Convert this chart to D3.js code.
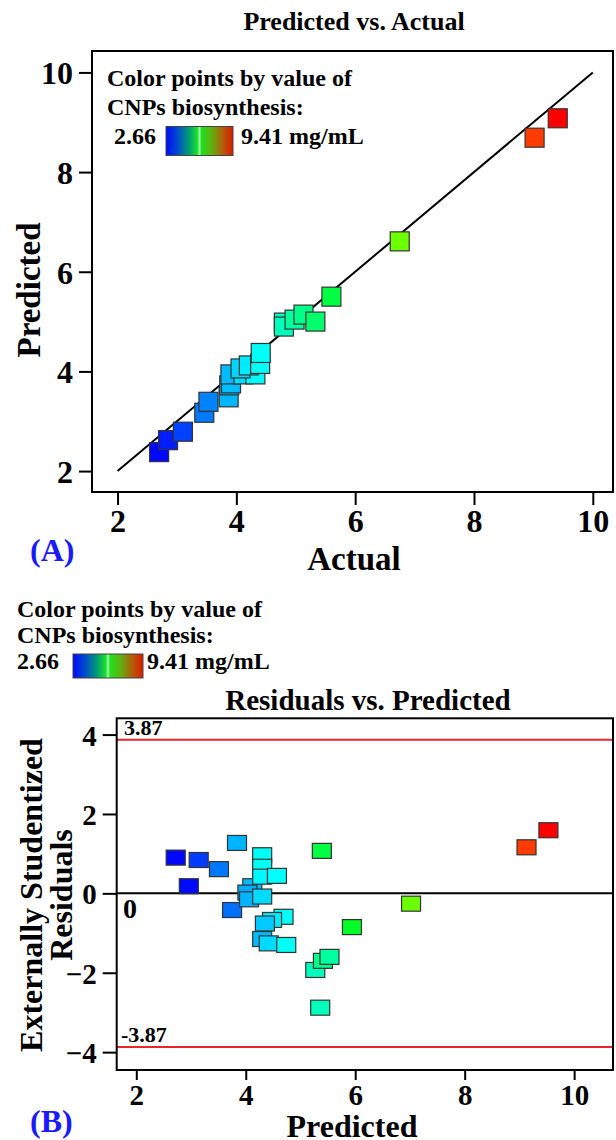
<!DOCTYPE html>
<html><head><meta charset="utf-8">
<script src="https://cdn.jsdelivr.net/npm/d3@7"></script>
<style>
html,body{margin:0;padding:0;background:#fff;}
text{font-family:"Liberation Serif","Times New Roman",serif;font-weight:bold;}
</style></head>
<body>
<svg id="c" width="616" height="1140"></svg>
<script>
// ---------- DATA ----------
const xTicks = [2, 4, 6, 8, 10];
const yTicksA = [2, 4, 6, 8, 10];
const yTicksB = [-4, -2, 0, 2, 4];
const colorMin = 2.66, colorMax = 9.41;
// Panel A: actual vs predicted
const actualA = [2.70,2.85,3.10,3.46,3.53,3.87,3.88,3.91,3.90,4.12,4.32,4.07,4.21,4.40,4.41,4.80,4.80,4.98,5.13,5.33,5.60,6.75,9.02,9.41];
const predictedA = [2.38,2.62,2.79,3.17,3.39,3.48,3.72,3.76,3.94,3.94,3.94,4.06,4.12,4.15,4.37,4.98,4.90,5.04,5.14,5.00,5.50,6.61,8.69,9.08];
// Panel B: predicted vs externally studentized residuals, colour value
const predictedB = [2.72,2.96,3.14,3.51,3.84,3.75,4.12,4.03,4.06,4.30,4.30,4.30,4.30,4.57,4.69,4.48,4.35,4.30,4.42,4.74,5.39,5.94,5.27,5.41,5.53,5.36,7.02,9.13,9.53];
const residualB  = [0.90,0.18,0.84,0.61,1.27,-0.42,0.18,0.02,-0.15,-0.08,0.96,0.67,0.42,0.44,-0.59,-0.67,-0.76,-1.15,-1.26,-1.30,1.07,-0.85,-1.93,-1.70,-1.60,-2.88,-0.26,1.16,1.59];
const colorB     = [2.70,2.72,3.05,3.45,3.85,3.40,3.90,3.80,3.85,4.10,4.40,4.40,4.30,4.35,4.40,4.20,4.00,3.90,4.10,4.41,5.60,5.80,4.80,5.13,4.98,4.80,6.75,9.02,9.41];
const limitB = 3.87;

// ---------- HELPERS ----------
const svg = d3.select("#c");
const hue = d3.scaleLinear().domain([colorMin, colorMax]).range([240, 0]).clamp(true);
const col = v => d3.hsl(hue(v), 1, 0.5).formatHex();

const defs = svg.append("defs");
const grad = defs.append("linearGradient").attr("id","lg");
[[0,"#0008ff"],[0.18,"#0050c8"],[0.35,"#00a070"],[0.47,"#20e030"],[0.5,"#a0ffa0"],[0.53,"#20e020"],[0.68,"#60b010"],[0.84,"#b06008"],[1,"#e01800"]]
  .forEach(s => grad.append("stop").attr("offset", s[0]).attr("stop-color", s[1]));

function legend(g, x0, y1, pitch, valX, barX, barW, barH, labX) {
  g.append("text").attr("x", x0).attr("y", y1).attr("font-size", 24).text("Color points by value of");
  g.append("text").attr("x", x0).attr("y", y1 + pitch).attr("font-size", 24).text("CNPs biosynthesis:");
  const y3 = y1 + 2 * pitch;
  g.append("text").attr("x", valX).attr("y", y3).attr("font-size", 24).text(colorMin.toFixed(2));
  g.append("rect").attr("x", barX).attr("y", y3 - barH / 2 - 3).attr("width", barW).attr("height", barH)
    .attr("fill", "url(#lg)").attr("stroke", "#444").attr("stroke-width", 1);
  g.append("text").attr("x", labX).attr("y", y3).attr("font-size", 24).text(colorMax.toFixed(2) + " mg/mL");
}

function styleAxis(g, size) {
  g.select(".domain").remove();
  g.selectAll(".tick line").attr("stroke", "#000").attr("stroke-width", 2);
  g.selectAll(".tick text").attr("font-size", size).attr("fill", "#000")
    .style("font-family", "'Liberation Serif',serif").style("font-weight", "bold");
}

// ---------- PANEL A ----------
const A = {l: 92, t: 51, r: 613, b: 492};
const xA = d3.scaleLinear().domain([1.57, 10.34]).range([A.l, A.r]);
const yA = d3.scaleLinear().domain([1.58, 10.43]).range([A.b, A.t]);
const gA = svg.append("g");

gA.append("text").attr("x", 354).attr("y", 30).attr("text-anchor", "middle").attr("font-size", 26).text("Predicted vs. Actual");

const gxA = gA.append("g").attr("transform", `translate(0,${A.b})`)
  .call(d3.axisBottom(xA).tickValues(xTicks).tickSize(13).tickPadding(4).tickFormat(d3.format("d")));
const gyA = gA.append("g").attr("transform", `translate(${A.l},0)`)
  .call(d3.axisLeft(yA).tickValues(yTicksA).tickSize(13).tickPadding(6).tickFormat(d3.format("d")));
styleAxis(gxA, 32); styleAxis(gyA, 32);
gyA.selectAll(".tick text").attr("dy", "0.36em");

gA.append("line").attr("x1", xA(2)).attr("y1", yA(2)).attr("x2", xA(10)).attr("y2", yA(10))
  .attr("stroke", "#000").attr("stroke-width", 2);

const SA = 19;
gA.selectAll("rect.pt").data(actualA.map((a, i) => ({a, p: predictedA[i]}))).join("rect")
  .attr("class", "pt")
  .attr("x", d => xA(d.a) - SA / 2).attr("y", d => yA(d.p) - SA / 2)
  .attr("width", SA).attr("height", SA)
  .attr("fill", d => col(d.a)).attr("stroke", "#333").attr("stroke-width", 1.2);

gA.append("rect").attr("x", A.l).attr("y", A.t).attr("width", A.r - A.l).attr("height", A.b - A.t)
  .attr("fill", "none").attr("stroke", "#000").attr("stroke-width", 2);

legend(gA, 107, 86, 29, 114, 166, 67, 29, 241);

gA.append("text").attr("transform", "translate(40,290) rotate(-90)").attr("text-anchor", "middle").attr("font-size", 33).text("Predicted");
gA.append("text").attr("x", 354).attr("y", 570).attr("text-anchor", "middle").attr("font-size", 33).text("Actual");
gA.append("text").attr("x", 30).attr("y", 561).attr("font-size", 32).attr("fill", "#1a1aff").text("(A)");

// ---------- PANEL B ----------
const B = {l: 116.7, t: 718.3, r: 613, b: 1070};
const xB = d3.scaleLinear().domain([1.642, 10.71]).range([B.l, B.r]);
const yB = d3.scaleLinear().domain([-4.45, 4.41]).range([B.b, B.t]);
const gB = svg.append("g");

legend(gB, 17, 617, 26, 17, 73, 70, 24, 147);

gB.append("text").attr("x", 368).attr("y", 710).attr("text-anchor", "middle").attr("font-size", 29).text("Residuals vs. Predicted");

const gxB = gB.append("g").attr("transform", `translate(0,${B.b})`)
  .call(d3.axisBottom(xB).tickValues(xTicks).tickSize(10).tickPadding(4).tickFormat(d3.format("d")));
const gyB = gB.append("g").attr("transform", `translate(${B.l},0)`)
  .call(d3.axisLeft(yB).tickValues(yTicksB).tickSize(14).tickPadding(6).tickFormat(d3.format("d")));
styleAxis(gxB, 29); styleAxis(gyB, 29);
gyB.selectAll(".tick text").attr("dy", "0.36em");

gB.append("line").attr("x1", B.l).attr("x2", B.r).attr("y1", yB(0)).attr("y2", yB(0)).attr("stroke", "#000").attr("stroke-width", 2);
[limitB, -limitB].forEach(v => gB.append("line").attr("x1", B.l).attr("x2", B.r).attr("y1", yB(v)).attr("y2", yB(v))
  .attr("stroke", "#e8262a").attr("stroke-width", 2));

const SBw = 19, SBh = 15;
gB.selectAll("rect.pt").data(predictedB.map((p, i) => ({p, r: residualB[i], c: colorB[i]}))).join("rect")
  .attr("class", "pt")
  .attr("x", d => xB(d.p) - SBw / 2).attr("y", d => yB(d.r) - SBh / 2)
  .attr("width", SBw).attr("height", SBh)
  .attr("fill", d => col(d.c)).attr("stroke", "#333").attr("stroke-width", 1.2);

gB.append("rect").attr("x", B.l).attr("y", B.t).attr("width", B.r - B.l).attr("height", B.b - B.t)
  .attr("fill", "none").attr("stroke", "#000").attr("stroke-width", 2);

gB.append("text").attr("x", 124).attr("y", 735).attr("font-size", 22).text(limitB.toFixed(2));
gB.append("text").attr("x", 121).attr("y", 1042).attr("font-size", 22).text((-limitB).toFixed(2));
gB.append("text").attr("x", 123).attr("y", 918).attr("font-size", 28).text("0");

gB.append("text").attr("transform", "translate(42,895) rotate(-90)").attr("text-anchor", "middle").attr("font-size", 32).text("Externally Studentized");
gB.append("text").attr("transform", "translate(72,895) rotate(-90)").attr("text-anchor", "middle").attr("font-size", 32).text("Residuals");
gB.append("text").attr("x", 352).attr("y", 1137).attr("text-anchor", "middle").attr("font-size", 32).text("Predicted");
gB.append("text").attr("x", 30).attr("y", 1132).attr("font-size", 32).attr("fill", "#1a1aff").text("(B)");
</script>
</body></html>
